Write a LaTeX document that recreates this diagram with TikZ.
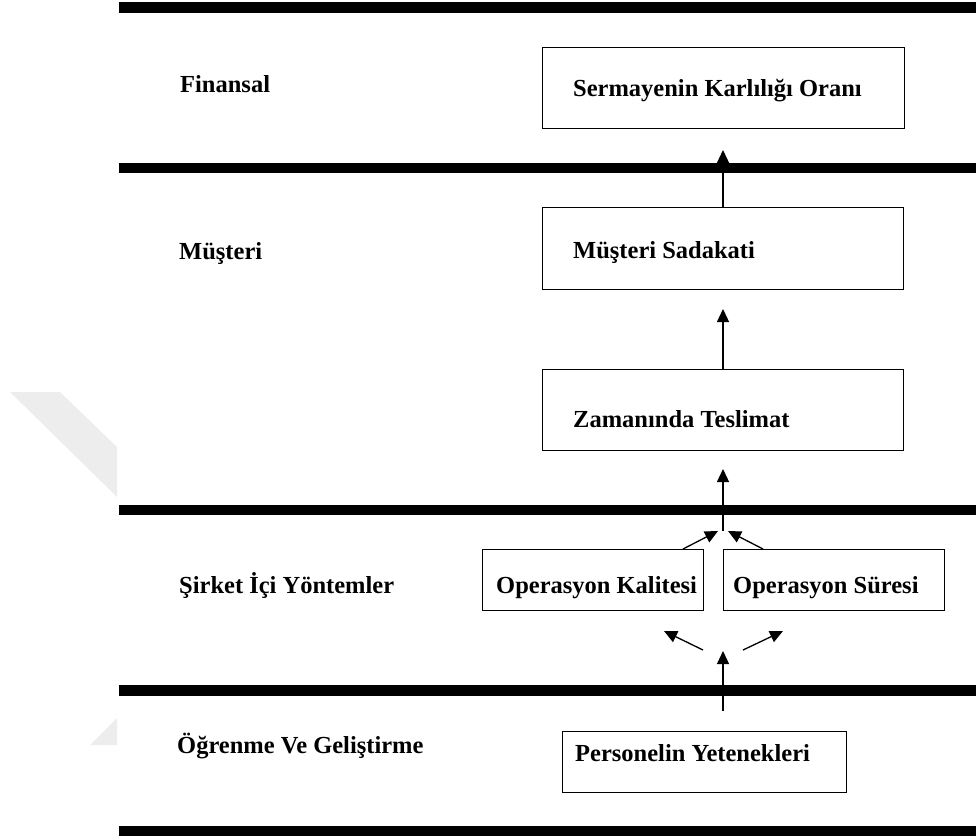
\documentclass[tikz,border=0pt]{standalone}
\usepackage{fontspec}
\setmainfont{Liberation Serif}
\usetikzlibrary{arrows.meta,calc}
\begin{document}
\begin{tikzpicture}[x=1pt,y=-1pt,
  lbl/.style={font=\fontsize{24.5pt}{29pt}\selectfont\bfseries, inner sep=0pt, anchor=base west},
  box/.style={draw, line width=1pt, inner sep=0pt, outer sep=0pt},
  bar/.style={fill=black},
  arr/.style={line width=1.3pt, -{Triangle[length=13pt,width=12pt]}},
  wm/.style={fill=black!7}]
\useasboundingbox (0,0) rectangle (976,839);
% faint watermark pieces
\fill[wm] (10,392) -- (60,392) -- (117,447) -- (117,497) -- cycle;
\fill[wm] (90,745) -- (117,745) -- (117,718) -- cycle;
% bars
\fill[bar] (119,2) rectangle (976,13);
\fill[bar] (119,163) rectangle (976,173);
\fill[bar] (119,505) rectangle (976,515);
\fill[bar] (119,685) rectangle (976,696);
\fill[bar] (119,826) rectangle (976,836);
% row labels
\node[lbl] (lfin) at (180,92) {Finansal};
\node[lbl] (lmus) at (179,259) {Müşteri};
\node[lbl] (lsir) at (179,593) {Şirket İçi Yöntemler};
\node[lbl] (logr) at (177,753) {Öğrenme Ve Geliştirme};
% boxes
\node[box, minimum width=362pt, minimum height=81pt] (srm) at (723,87.5) {};
\node[box, minimum width=361pt, minimum height=82pt] (msd) at (722.5,248) {};
\node[box, minimum width=361pt, minimum height=81pt] (zt) at (722.5,409.5) {};
\node[box, minimum width=221pt, minimum height=61pt] (ok) at (592.5,579.5) {};
\node[box, minimum width=221pt, minimum height=61pt] (os) at (833.5,579.5) {};
\node[box, minimum width=284pt, minimum height=61pt] (py) at (704,761.5) {};
% box texts
\node[lbl] (tsrm) at (573,96) {Sermayenin Karlılığı Oranı};
\node[lbl] (tmsd) at (573,258) {Müşteri Sadakati};
\node[lbl] (tzt) at (573,427) {Zamanında Teslimat};
\node[lbl] (tok) at (496,593) {Operasyon Kalitesi};
\node[lbl] (tos) at (733,593) {Operasyon Süresi};
\node[lbl] (tpy) at (575,761) {Personelin Yetenekleri};
% free ends
\coordinate (a1) at (723,150);
\coordinate (a2) at (723,309);
\coordinate (j) at (723,531);
\coordinate (a3) at (723,469);
\coordinate (jl) at (718,531);
\coordinate (jr) at (728,531);
\coordinate (b0) at (723,711);
\coordinate (b1) at (723,651);
\coordinate (c0) at (703,650);
\coordinate (c1) at (664,631);
\coordinate (d0) at (743,650);
\coordinate (d1) at (783,631);
% connectors
\draw[arr] (msd.north -| a1) -- (a1);
\draw[arr] (zt.north -| a2) -- (a2);
\draw[arr] (j) -- (a3);
\draw[arr] ($(ok.north east)+(-20,0)$) -- (jl);
\draw[arr] ($(os.north west)+(40,0)$) -- (jr);
\draw[arr] (b0) -- (b1);
\draw[arr] (c0) -- (c1);
\draw[arr] (d0) -- (d1);
\end{tikzpicture}
\end{document}
